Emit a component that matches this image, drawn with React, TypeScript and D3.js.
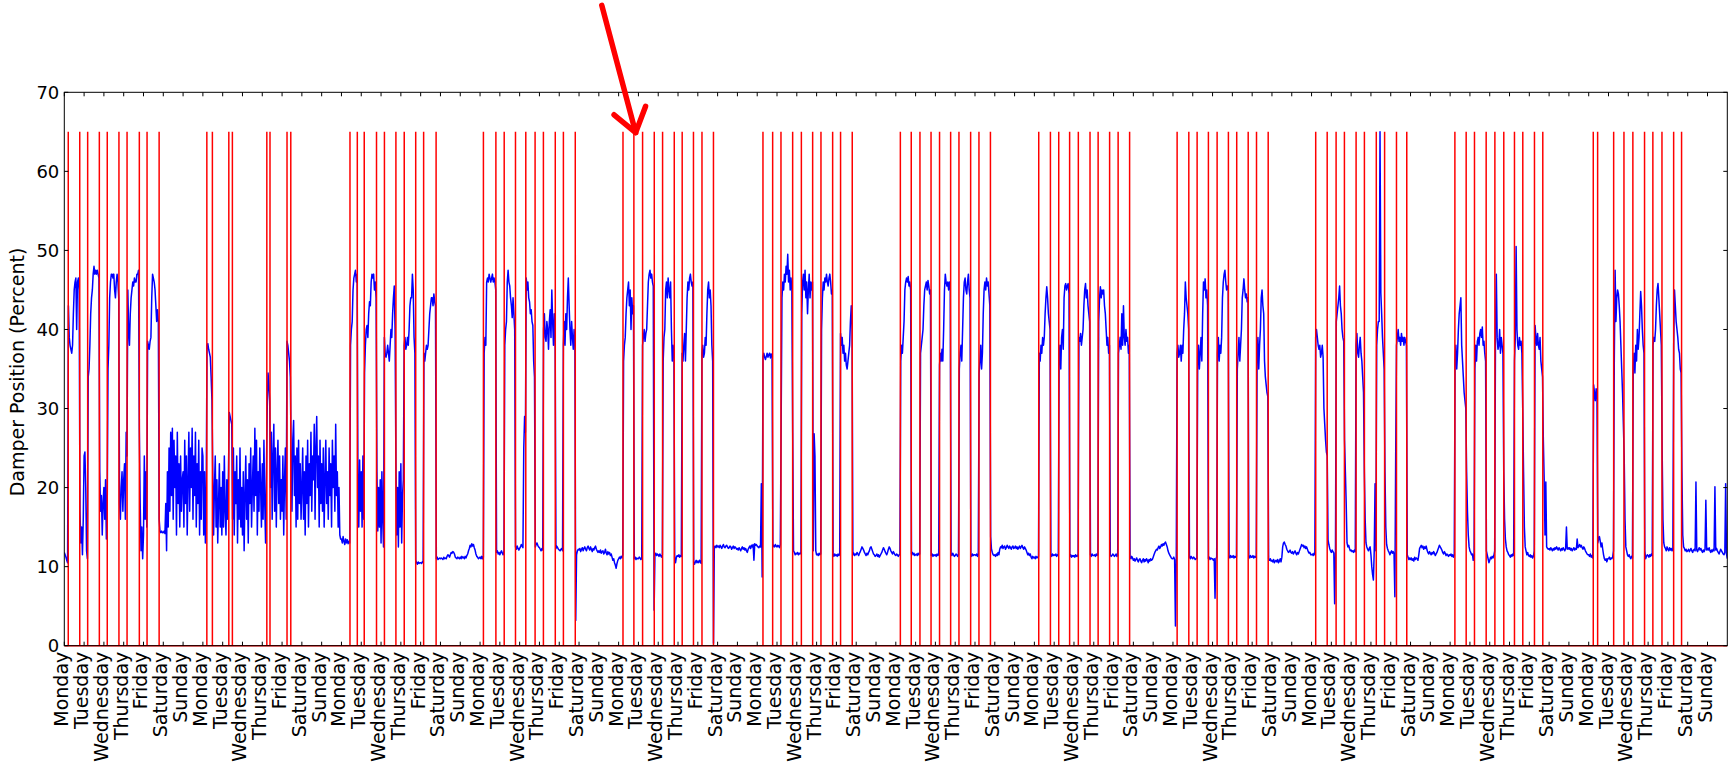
import React from 'react';
import * as d3 from 'd3';

// ---------- data ----------
const DAY_NAMES = ['Monday', 'Tuesday', 'Wednesday', 'Thursday', 'Friday', 'Saturday', 'Sunday'];
const NUM_DAYS = 84;
const Y_TICKS = [0, 10, 20, 30, 40, 50, 60, 70];
const Y_LABEL = 'Damper Position (Percent)';
const EVENT_HEIGHT = 65;

// occupancy schedule events (in days since first Monday)
const eventDays = [
  0.20, 0.78, 1.18, 1.77, 2.17, 2.76, 3.17, 3.79, 4.18, 4.79,
  7.20, 7.48, 8.31, 8.49, 10.23, 10.39, 11.25, 11.44,
  14.43, 14.80, 15.15, 15.77, 16.17, 16.75, 17.17, 17.75, 18.15, 18.78,
  21.17, 21.80, 22.22, 22.79, 23.31, 23.78, 24.20, 24.80, 25.21, 25.81,
  28.22, 28.77, 29.21, 29.80, 30.22, 30.81, 31.21, 31.78, 32.21, 32.79,
  35.29, 35.78, 36.20, 36.79, 37.23, 37.80, 38.22, 38.81, 39.21, 39.80,
  42.23, 42.78, 43.22, 43.78, 44.21, 44.77, 45.19, 45.78, 46.20, 46.78,
  49.22, 49.81, 50.23, 50.78, 51.22, 51.81, 52.22, 52.80, 53.23, 53.81,
  56.21, 56.80, 57.22, 57.79, 58.23, 58.80, 59.22, 59.80, 60.22, 60.81,
  63.21, 63.79, 64.24, 64.66, 65.25, 65.67, 66.27, 66.69, 67.29, 67.81,
  70.24, 70.81, 71.23, 71.82, 72.26, 72.71, 73.25, 73.67, 74.26, 74.68,
  77.23, 77.45, 78.26, 78.78, 79.23, 79.82, 80.24, 80.70, 81.29, 81.69,
];

// hourly damper position, one array per week (Mon 00:00 .. Sun 23:00)
const week1 = [
  11.8, 11.5, 11.2, 10.8, 10.5, 43, 39, 38, 37.5, 37, 38, 42, 45, 46, 46.5, 40, 46, 46.5, 45, 17, 13, 15, 11.5, 16,
  24, 24.5, 20, 12, 11, 34, 35, 38, 42, 44, 45, 47, 48, 47, 47.5, 47, 47.5, 47, 46.5, 22, 17, 19, 14, 18,
  20, 16, 21, 13.5, 17, 35, 38, 44, 46, 47, 47, 46.5, 47, 45, 44, 46, 47, 46, 44, 18, 16, 20, 22, 17,
  21, 23, 16, 27, 24, 45, 40, 38, 42, 44, 45, 46, 45.5, 46.5, 46, 46, 47, 47, 47.5, 27, 18, 12, 15, 11,
  14, 24, 16, 22, 15, 38.5, 38, 37.5, 38.5, 39, 44, 47, 46.5, 46, 45, 43, 41, 42.5, 41, 16, 14.5, 14.3, 14.5, 14.3,
  14.3, 14.5, 14.2, 18, 12, 22, 15, 25, 17, 27, 19, 27.5, 16, 26, 20, 24, 14, 27, 18, 23, 15, 24, 17, 21,
  22, 15, 26, 18, 24, 14, 21, 27, 17, 25, 20, 27.5, 16, 24, 19, 27, 15, 23, 18, 26, 14, 22, 16, 25,
];
const week2 = [
  24, 14, 22, 13, 19, 38, 38.2, 37.5, 37, 36.5, 34, 31, 22, 14, 20, 24, 15, 21, 13, 18, 23, 15, 20, 14,
  22, 15, 24, 17, 14, 21, 16, 22, 29.5, 29, 28.5, 28, 16, 25, 14, 22, 18, 24, 13, 21, 16, 25, 15, 20,
  14, 22, 12, 19, 24, 16, 21, 13, 23, 18, 25, 15, 20, 24, 17, 27.5, 19, 26, 14, 22, 17, 25, 20, 15,
  23, 16, 26, 18, 13, 22, 30, 34.5, 33, 31, 20, 27, 16, 24, 28, 17, 25, 15, 22, 26, 18, 24, 16, 21,
  17, 24, 14, 21, 25, 16, 38.5, 38, 37, 36, 34, 24, 17, 26, 28.5, 19, 24, 15, 25, 16, 26, 18, 23, 16,
  20, 25, 16, 22, 14, 24, 18, 26, 15, 23, 19, 27, 17, 24, 21, 28, 16, 25, 29, 20, 24, 15, 26, 18,
  23, 17, 25, 15, 21, 26, 18, 22, 16, 25, 19, 23, 15, 26, 20, 24, 17, 28, 19, 22, 15, 20, 14, 13.5,
];
const week3 = [
  13.5, 13, 13.8, 13.2, 12.8, 13.5, 13, 13.4, 12.9, 13.2, 13, 38, 40, 41, 45, 46.5, 47, 47.5, 46, 47, 20, 15, 23.5, 17,
  22, 15, 24, 16, 34.5, 38, 40, 40.5, 39, 42, 43.5, 43, 46, 47, 46.5, 47, 45, 46, 44, 22, 14.5, 20, 15, 21,
  13, 22, 16, 12.5, 39, 37, 36.5, 37, 38, 37, 36, 38, 40, 39, 42, 44, 45.5, 40, 23, 14, 20, 12.5, 22, 15,
  23, 13, 19, 21, 38, 39, 37.5, 38, 39, 38, 40, 43, 44, 44, 47, 45, 39, 37, 10.8, 10.5, 10.3, 10.6, 10.4, 10.5,
  10.5, 10.4, 10.6, 10.5, 37, 36, 37, 38, 37.5, 38, 40, 42, 43, 44, 44, 43, 44.5, 43.5, 43, 11, 11.2, 10.9, 11, 11.1,
  11, 11.1, 11, 10.9, 11.2, 11, 11.1, 11, 11.3, 11.5, 11.4, 11.2, 11.5, 11.8, 11.7, 11.9, 11.8, 11.6, 11.2, 11.1, 11, 11.2, 11.1, 11,
  11.2, 11, 11.3, 11.1, 11.2, 11, 11.3, 11.1, 11.4, 11.6, 12, 12.3, 12.7, 12.5, 12.9, 12.6, 12.8, 12.4, 12.1, 11.6, 11.3, 11.2, 11, 11.1,
];
const week4 = [
  11.2, 11, 11.3, 11, 11.2, 37, 39, 38, 46, 46.5, 46, 47, 46.5, 46, 46.5, 47, 46, 46.5, 46, 45, 11.8, 12, 11.6, 11.8,
  11.5, 11.8, 12, 11.7, 11.5, 12, 38, 40, 41, 46, 47.5, 46, 45.5, 44, 43, 41.5, 44, 42, 40, 12.5, 12.2, 12.6, 12.3, 12.1,
  12.3, 12.5, 12.8, 12.6, 12.4, 25, 29, 27, 46.5, 45, 46, 44, 43.5, 42, 42.5, 41, 40.5, 36, 34, 12.5, 12.8, 13, 12.7, 12.5,
  12.4, 12.2, 12, 12.3, 12.1, 40, 42, 39, 38.5, 41, 40, 37.5, 41, 42.5, 39, 45, 41, 38, 42, 40, 12.3, 12.6, 12.4, 12.2,
  12.1, 12, 12.2, 12.3, 12, 38, 41, 38, 42, 40, 44, 46.5, 43, 40, 38, 41, 39, 37.5, 40, 38, 3.2, 11.5, 12, 12.2,
  12.1, 12.3, 11.9, 12.2, 12.4, 12, 12.3, 12.5, 12.2, 12, 12.4, 12.6, 12.3, 12.1, 12.5, 12.2, 11.9, 12.3, 12.1, 12.4, 12.6, 12.2, 12, 11.8,
  12, 11.8, 12.1, 11.7, 11.9, 12, 11.6, 11.8, 12.2, 11.7, 11.5, 11.9, 11.6, 11.8, 11.4, 11.6, 11.2, 10.8, 11, 10.5, 10.2, 9.8, 10.4, 10.8,
];
const week5 = [
  11, 11.2, 11, 11.3, 11.1, 11.5, 36, 38, 39, 42, 44, 45, 46, 43, 45, 40, 44, 42, 43, 11, 11.2, 10.9, 11.1, 11,
  11, 11.2, 11.1, 10.9, 11, 38, 39, 40, 38.5, 39.5, 40, 43, 46, 47, 47.5, 46.5, 47, 46, 45.5, 4.5, 11.5, 11.7, 11.4, 11.6,
  11.5, 11.3, 11.6, 11.4, 11.2, 11.5, 36, 39, 40, 45, 46, 44, 46.5, 45, 44, 46, 40, 36, 38, 37, 11, 10.5, 11.2, 11.4,
  11.3, 11.5, 11.2, 11.4, 11.3, 37, 36, 38, 39.5, 36, 40, 44, 46, 45, 46.5, 47, 46, 45.5, 46, 10.5, 10.3, 10.6, 10.8, 10.5,
  10.7, 10.5, 10.8, 10.6, 10.4, 37, 38, 36.5, 37, 39, 38, 42, 45, 46, 44, 45, 43, 38, 36, 0.3, 12.5, 12.6, 12.4, 12.7,
  12.5, 12.6, 12.4, 12.7, 12.5, 12.3, 12.6, 12.8, 12.5, 12.4, 12.6, 12.7, 12.5, 12.3, 12.4, 12.6, 12.5, 12.2, 12.4, 12.6, 12.3, 12.5, 12.4, 12.2,
  12.3, 12.1, 12.4, 12.2, 12, 12.3, 12.5, 12.2, 12.4, 12.1, 12.3, 12, 11.8, 12.2, 12.4, 12.6, 12.3, 12.7, 12.5, 12.8, 10.8, 12.9, 12.7, 12.8,
];
const week6 = [
  12.6, 12.5, 12.4, 12.6, 12.5, 20.5, 8.7, 36.5, 37, 36.5, 36.2, 36.6, 37, 36.5, 36.8, 37, 36.4, 36.9, 36.5, 12.5, 12.7, 12.5, 12.8, 12.6,
  12.5, 12.7, 12.6, 12.4, 12.8, 28, 44, 46, 45, 47, 46, 48, 47, 49.5, 46, 47.5, 45, 46.5, 45, 27, 12, 11.8, 11.5, 11.7,
  11.6, 11.8, 11.5, 11.7, 11.6, 11.8, 42, 46, 47, 45, 47.5, 44, 46, 42, 45, 47, 44, 46, 45, 46, 12, 26.8, 24, 12,
  11.5, 11.6, 11.4, 11.7, 11.5, 11.6, 40, 44, 46, 45, 46.5, 46, 47, 46, 45.5, 46.5, 47, 46, 44.5, 45, 11.5, 11.3, 11.6, 11.4,
  11.5, 11.3, 11.6, 11.4, 11.5, 39.5, 38, 39, 37, 38, 36, 37, 35.5, 35, 36, 37, 38, 41, 43, 40, 11.5, 11.7, 11.4, 11.6,
  11.5, 11.8, 11.6, 11.4, 11.7, 11.9, 12.2, 12.5, 12.3, 12.1, 11.8, 11.6, 11.4, 11.7, 11.5, 11.8, 12, 12.4, 12.5, 12.2, 11.9, 11.6, 11.5, 11.3,
  11.4, 11.6, 11.3, 11.5, 11.2, 11.4, 11.6, 11.8, 12.1, 12.4, 12.2, 11.9, 11.7, 11.5, 11.8, 12.2, 12.5, 12.3, 12, 11.8, 11.6, 11.9, 11.7, 11.5,
];
const week7 = [
  11.4, 11.6, 11.5, 11.3, 11.5, 11.5, 36, 38, 37, 39, 41, 45, 46, 46.5, 46, 46.7, 45.5, 46, 45, 11.6, 11.8, 11.5, 11.7, 11.4,
  11.5, 11.6, 11.4, 11.7, 11.5, 11.6, 37, 38, 39, 40, 43, 45, 45.5, 46, 45, 46.2, 45.5, 44.5, 45, 11.4, 11.6, 11.3, 11.5, 11.4,
  11.5, 11.3, 11.6, 11.4, 11.5, 35.5, 37, 36, 37.5, 36, 40, 45, 47, 46, 45.5, 46, 45, 46, 45, 11.6, 11.4, 11.7, 11.5, 11.3,
  11.4, 11.6, 11.5, 11.3, 11.5, 35, 37, 38, 36, 40, 44, 46, 46.5, 45, 44.5, 46, 47, 45, 44, 11.5, 11.3, 11.6, 11.4, 11.5,
  11.5, 11.4, 11.6, 11.3, 11.5, 34.5, 36, 38, 35, 37, 42, 45, 46, 45, 46.5, 45.5, 46, 44.5, 43, 13.8, 12.2, 11.8, 11.5, 11.4,
  11.5, 11.3, 11.6, 11.4, 11.8, 11.5, 12.2, 12.5, 12.4, 12.7, 12.3, 12.5, 12.6, 12.2, 12.4, 12.7, 12.5, 12.3, 12.6, 12.4, 12.2, 12.5, 12.6, 12.3,
  12.4, 12.6, 12.3, 12.5, 12.2, 12.4, 12.6, 12.3, 12.5, 12.7, 12.4, 12.2, 12.5, 12.3, 12.1, 11.8, 11.5, 11.7, 11.4, 11.6, 11.2, 11, 11.3, 11.1,
];
const week8 = [
  11.2, 11, 11.3, 11.1, 11.2, 11.3, 37, 36, 38, 37, 39, 38, 39, 42, 44, 45.4, 44, 42, 41, 40, 11.5, 11.3, 11.6, 11.4,
  11.5, 11.4, 11.6, 11.3, 11.5, 11.4, 36.5, 38, 35, 39, 40, 37.5, 44, 45.5, 45.8, 45, 45.5, 45.8, 44.5, 11.3, 11.5, 11.2, 11.4, 11.3,
  11.4, 11.2, 11.5, 11.3, 11.4, 11.3, 39, 38.5, 39.5, 38, 39, 40, 43, 45, 45.8, 44, 45, 43, 42, 41, 11.5, 11.3, 11.6, 11.4,
  11.4, 11.5, 11.3, 11.6, 11.4, 11.5, 41, 44, 45.4, 44, 45, 44.5, 45, 43, 42, 40, 38, 39, 37, 38, 11.5, 11.3, 11.4, 11.6,
  11.5, 11.3, 11.4, 11.6, 11.3, 11.4, 37, 38, 39, 37.5, 42, 38, 43, 39, 38, 40, 38.5, 39, 37, 38, 11.2, 11, 11.3, 11.1,
  10.8, 11, 10.7, 10.9, 11.1, 10.8, 10.6, 10.9, 11, 10.7, 10.5, 10.8, 11, 10.6, 10.9, 10.7, 11, 10.8, 10.5, 10.9, 10.7, 11, 10.8, 10.9,
  11.2, 11.5, 11.8, 12, 12.2, 12.1, 12.4, 12.6, 12.3, 12.5, 12.8, 12.6, 12.9, 12.7, 13, 13.1, 12.8, 12.5, 12, 11.7, 11.5, 11.3, 11.1, 11,
];
const week9 = [
  11, 11.2, 10.9, 2.5, 11, 37, 38, 36.5, 37, 38, 36, 38, 37, 40, 42, 46, 44, 43, 42, 40, 11.2, 11, 11.3, 11.1,
  11, 11.2, 11.1, 10.9, 11, 11, 36.5, 38, 35, 37, 39, 36, 42, 46, 45, 46.4, 44, 45, 43, 11, 11.2, 10.9, 11.1, 11,
  11, 10.8, 11, 6, 11, 11.2, 37, 39, 36, 38, 37, 39, 44, 46, 47, 47.5, 46, 45, 45.5, 45, 11.3, 11.1, 11.4, 11.2,
  11.2, 11.4, 11.1, 11.3, 11.2, 11.3, 35, 37, 39, 36, 38, 40, 44, 45, 46.4, 45, 44, 44.5, 43.5, 44, 11.3, 11.1, 11.4, 11.2,
  11.2, 11.4, 11.1, 11.3, 11.2, 11.3, 37, 39, 35, 38, 40, 44, 45, 43, 42, 36, 34, 33, 32, 31.5, 11, 10.8, 11, 10.7,
  10.8, 10.6, 10.9, 10.5, 10.7, 10.8, 10.6, 10.9, 10.5, 10.7, 11, 10.6, 11.2, 12.5, 13, 13.1, 12.8, 12.6, 12.2, 12, 11.8, 11.9, 12.1, 11.8,
  11.7, 11.9, 11.6, 11.8, 12, 11.7, 11.5, 11.8, 11.6, 11.9, 12.2, 12.5, 12.8, 12.6, 12.7, 12.4, 12.6, 12.3, 12.5, 12.2, 11.9, 11.7, 11.8, 11.5,
];
const week10 = [
  11.5, 11.6, 11.4, 11.7, 11.5, 39, 40, 39, 38, 37.5, 38, 36.5, 37, 38, 36.5, 30, 28, 26, 24.5, 24, 13.4, 12.8, 12.3, 12,
  11.8, 12.1, 11.9, 11.7, 5.3, 11.8, 41, 42, 43, 44, 45.5, 43, 42, 40, 39, 38.5, 26, 22, 18, 13, 12.5, 12.7, 12.3, 12,
  12.1, 11.9, 12, 11.8, 12.1, 11.9, 38, 39.5, 37, 36.5, 38, 39, 37, 36, 34, 32, 22, 16, 13, 12.5, 12.2, 12, 12.3, 12.5,
  11.5, 10, 9, 8.3, 12, 20.5, 12, 38, 40, 41, 41, 65, 44.6, 42, 39, 37, 35, 22, 15, 12.8, 12.3, 12, 11.8, 11.5,
  11.8, 12, 11.7, 11.9, 11.6, 6.2, 24, 38, 39, 40, 38.5, 39, 38, 39.5, 38.5, 39, 38, 39, 38.5, 38, 11.5, 11.2, 10.9, 11.1,
  10.9, 11.1, 10.8, 11, 10.7, 11.2, 10.9, 11.1, 11, 10.8, 11.5, 12.3, 12.5, 12.7, 12.4, 12.6, 12.2, 12.5, 12.3, 12.6, 12.1, 11.8, 11.6, 11.9,
  11.7, 11.5, 11.8, 11.6, 11.9, 11.7, 11.4, 11.6, 11.8, 12.1, 12.4, 12.7, 12.5, 12.3, 12.1, 11.8, 11.6, 11.9, 11.7, 11.4, 11.6, 11.5, 11.3, 11.5,
];
const week11 = [
  11.4, 11.6, 11.3, 11.5, 11.2, 11.5, 36, 38, 35, 37, 40, 42, 43, 44, 38, 36, 34, 32, 31, 30, 22, 17, 14, 12.5,
  12, 11.8, 11.5, 11.6, 10.8, 11, 35, 38, 36, 38.5, 39, 38, 39.5, 40, 39, 40.3, 38, 38.5, 37, 36, 12, 11.5, 11, 10.5,
  10.8, 11.2, 11, 11.3, 11.1, 11.4, 12, 40, 47, 39, 37.5, 38, 40, 37, 39, 38, 37, 22, 16, 13.5, 12.5, 12, 11.8, 11.5,
  11.4, 11.2, 11.5, 11.3, 11.6, 11.4, 36, 39, 50.5, 40, 38, 37.5, 39, 38, 38.5, 37, 30, 22, 15, 12.5, 12, 11.5, 11.8, 11.4,
  11.3, 11.5, 11.2, 11.4, 11.1, 11.3, 12, 40.5, 39, 38, 39.5, 38, 37.5, 39, 36, 35, 34, 26, 21, 14, 20.7, 12.5, 12.3, 12.2,
  12.3, 12.1, 12.4, 12.2, 12, 12.3, 12.1, 12.4, 12.2, 12.5, 12.3, 12.1, 12.4, 12.2, 12, 12.3, 12.1, 12.4, 12.2, 12, 12.3, 15, 12.2, 12.4,
  12.2, 12.4, 12.1, 12.3, 12, 12.2, 12.4, 12.1, 12.3, 12.2, 13.5, 12.4, 12.6, 12.8, 12.5, 12.7, 12.4, 12.2, 12.5, 12.3, 12, 11.8, 11.6, 11.5,
];
const week12 = [
  11.5, 11.3, 11.6, 11.2, 11.4, 11.1, 33, 32, 31, 32.5, 31.5, 13, 13.5, 13.8, 13.2, 12.5, 13, 12.2, 11.5, 11, 10.8, 11, 10.6, 11,
  11, 11.2, 10.9, 11.1, 11, 11.2, 12, 36, 47.5, 41, 44, 45, 44.5, 43, 41, 38, 35, 32, 28, 24, 16, 12.5, 12, 11.5,
  11.3, 11.5, 11.2, 11, 11.3, 11.1, 35, 37, 34.5, 38, 36, 40, 37.5, 39, 42, 44.8, 43, 40, 38, 37, 12, 11, 11.3, 11.5,
  11.4, 11.2, 11.5, 11.3, 11.6, 11.4, 38, 39, 38.5, 40, 43, 45, 45.8, 44, 42, 40, 38, 25, 16, 13, 12.5, 12.3, 12, 12.5,
  12.2, 12, 12.4, 12.1, 12.3, 12, 12.2, 38, 45, 43, 41, 40, 39, 37.5, 37, 35, 34.5, 22, 14, 12.5, 12.3, 12, 12.2, 11.9,
  12, 12.2, 11.9, 12.1, 12.3, 12, 11.8, 12.1, 12.2, 12, 20.7, 12.1, 11.9, 12.2, 12.4, 12.1, 12.3, 12, 11.8, 12.1, 11.9, 12.2, 18.4, 12.1,
  12.3, 12.1, 12.4, 12, 11.8, 12.1, 11.9, 12.2, 12, 20.1, 12.1, 12.3, 12, 11.8, 11.6, 11.9, 12.2, 12, 11.8, 11.6, 11.5, 11.8, 20.5, 11.6,
];
const finalValue = 11;

// red hand-drawn arrow annotation, in data units (day, value)
const arrowTail = { day: 27.15, value: 81.0 };
const arrowTip = { day: 28.86, value: 64.9 };

// ---------- layout ----------
const W = 1733;
const H = 768;
const M = { left: 64.3, right: 1727.3, top: 92.3, bottom: 645.7 };
const FONT = '"DejaVu Sans", Verdana, sans-serif';

export default function App() {
  const x = d3.scaleLinear().domain([0, NUM_DAYS]).range([M.left, M.right]);
  const y = d3.scaleLinear().domain([0, 70]).range([M.bottom, M.top]);

  const weeks = [week1, week2, week3, week4, week5, week6, week7, week8, week9, week10, week11, week12];
  const series: { t: number; v: number }[] = [];
  weeks.forEach((w, wi) => {
    w.forEach((v, i) => series.push({ t: wi * 7 + i / 24, v }));
  });
  series.push({ t: NUM_DAYS, v: finalValue });

  const line = d3
    .line<{ t: number; v: number }>()
    .x((d) => x(d.t))
    .y((d) => y(d.v));
  const bluePath = line(series) || '';

  const rp = d3.path();
  rp.moveTo(x(0), y(0));
  eventDays.forEach((e) => {
    rp.lineTo(x(e), y(0));
    rp.lineTo(x(e), y(EVENT_HEIGHT));
    rp.lineTo(x(e) + 0.01, y(0));
  });
  rp.lineTo(x(NUM_DAYS), y(0));

  const xTicks = d3.range(0, NUM_DAYS);
  const tickLen = 4;

  const tipX = x(arrowTip.day);
  const tipY = y(arrowTip.value);
  const tailX = x(arrowTail.day);
  const tailY = y(arrowTail.value);
  const ang = Math.atan2(tipY - tailY, tipX - tailX);
  const headLen = 28;
  const spread = 0.62;
  const h1x = tipX - headLen * Math.cos(ang - spread);
  const h1y = tipY - headLen * Math.sin(ang - spread);
  const h2x = tipX - headLen * Math.cos(ang + spread);
  const h2y = tipY - headLen * Math.sin(ang + spread);

  return (
    <svg
      width={W}
      height={H}
      style={{ position: 'absolute', left: 0, top: 0, background: '#ffffff' }}
      fontFamily={FONT}
    >
      <rect x={0} y={0} width={W} height={H} fill="#ffffff" />
      <defs>
        <clipPath id="plotclip">
          <rect x={M.left} y={M.top} width={M.right - M.left} height={M.bottom - M.top + 2} />
        </clipPath>
      </defs>

      <g clipPath="url(#plotclip)">
        <path d={bluePath} fill="none" stroke="#0000ff" strokeWidth={1.5} strokeLinejoin="round" />
        <path d={rp.toString()} fill="none" stroke="#ff0000" strokeWidth={1.5} />
      </g>

      {/* frame */}
      <rect
        x={M.left}
        y={M.top}
        width={M.right - M.left}
        height={M.bottom - M.top}
        fill="none"
        stroke="#000000"
        strokeWidth={1}
      />

      {/* x ticks */}
      {xTicks.map((d) => (
        <g key={'xt' + d}>
          <line x1={x(d)} x2={x(d)} y1={M.bottom} y2={M.bottom - tickLen} stroke="#000" strokeWidth={1} />
          <line x1={x(d)} x2={x(d)} y1={M.top} y2={M.top + tickLen} stroke="#000" strokeWidth={1} />
          <text
            transform={`translate(${x(d) - 3},${M.bottom + 6}) rotate(-90)`}
            textAnchor="end"
            dominantBaseline="central"
            fontSize={19}
            fill="#000"
          >
            {DAY_NAMES[d % 7]}
          </text>
        </g>
      ))}

      {/* y ticks */}
      {Y_TICKS.map((v) => (
        <g key={'yt' + v}>
          <line x1={M.left} x2={M.left + tickLen} y1={y(v)} y2={y(v)} stroke="#000" strokeWidth={1} />
          <line x1={M.right} x2={M.right - tickLen} y1={y(v)} y2={y(v)} stroke="#000" strokeWidth={1} />
          <text x={M.left - 5} y={y(v)} textAnchor="end" dominantBaseline="central" fontSize={18} fill="#000">
            {v}
          </text>
        </g>
      ))}

      {/* y label */}
      <text
        transform={`translate(24,${(M.top + M.bottom) / 2 + 3}) rotate(-90)`}
        textAnchor="middle"
        fontSize={19}
        fill="#000"
      >
        {Y_LABEL}
      </text>

      {/* red arrow annotation */}
      <g stroke="#ff0000" strokeWidth={5.5} strokeLinecap="round" strokeLinejoin="round" fill="none">
        <line x1={tailX} y1={tailY} x2={tipX} y2={tipY} />
        <polyline points={`${h1x},${h1y} ${tipX},${tipY} ${h2x},${h2y}`} />
      </g>
    </svg>
  );
}
